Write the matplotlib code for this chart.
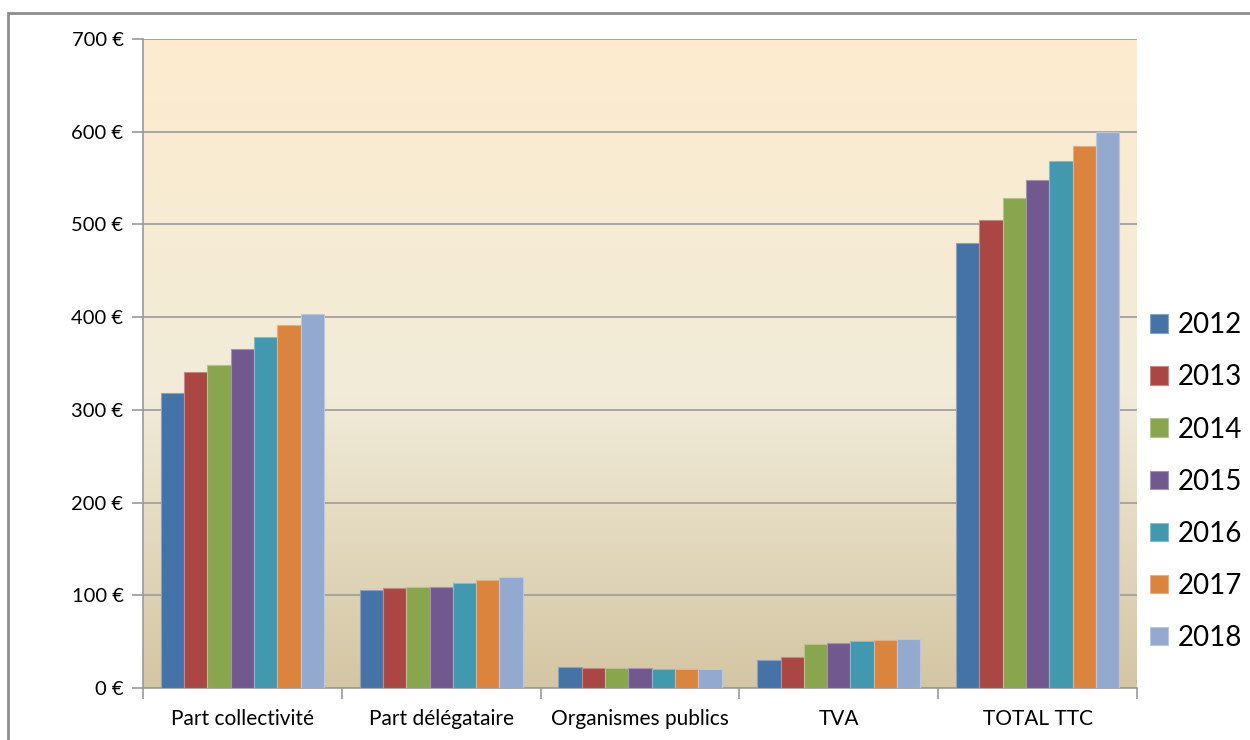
import numpy as np
import matplotlib.pyplot as plt
from matplotlib.colors import LinearSegmentedColormap, to_rgb
from matplotlib.patches import Rectangle

categories = ["Part collectivité", "Part délégataire", "Organismes publics", "TVA", "TOTAL TTC"]
years = ["2012", "2013", "2014", "2015", "2016", "2017", "2018"]

# valeurs en euros, une liste par annee (ordre des categories)
v2012 = [318, 106, 23, 30, 480]
v2013 = [341, 108, 22, 33, 505]
v2014 = [348, 109, 22, 47, 529]
v2015 = [366, 109, 22, 49, 548]
v2016 = [379, 113, 21, 51, 568]
v2017 = [392, 117, 21, 52, 585]
v2018 = [403, 120, 21, 53, 600]
series = [v2012, v2013, v2014, v2015, v2016, v2017, v2018]

colors = ["#4572A7", "#AA4643", "#89A54E", "#71588F", "#4198AF", "#DB843D", "#93A9CF"]
yticks = [0, 100, 200, 300, 400, 500, 600, 700]

plt.rcParams['font.family'] = ['Lato', 'DejaVu Sans']

fig = plt.figure(figsize=(12.5, 7.4), dpi=100)
fig.patches.append(Rectangle((8 / 1250, -0.01), 1.1, 1 - 13 / 740 + 0.01,
                             transform=fig.transFigure, fill=False,
                             edgecolor="#8c8c8c", linewidth=2))
ax = fig.add_axes([143 / 1250, 1 - 688 / 740, (1137 - 143) / 1250, (688 - 39) / 740])

# fond degrade
cmap = LinearSegmentedColormap.from_list("bg", [(0, "#D4C6A3"), (0.45, "#F1EBD8"), (1, "#FDECCF")])
grad = np.linspace(0, 1, 256).reshape(-1, 1)
ax.imshow(grad, aspect="auto", cmap=cmap, origin="lower", extent=[0, 1, 0, 1],
          transform=ax.transAxes, zorder=0)

n = len(series)
group_w = 0.82
bw = group_w / n
x = np.arange(len(categories))
for i, (vals, c) in enumerate(zip(series, colors)):
    edge = tuple(0.65 * np.array(to_rgb(c)) + 0.35)
    ax.bar(x - group_w / 2 + bw * (i + 0.5), vals, width=bw, color=c,
           edgecolor=edge, linewidth=0.8, label=years[i], zorder=3)

ax.set_xlim(-0.5, len(categories) - 0.5)
ax.set_ylim(0, 700)
ax.set_yticks(yticks)
ax.set_yticklabels([f"{v} €" for v in yticks], fontsize=14.5)
ax.yaxis.grid(True, color="#9a9a9a", linewidth=1.2, zorder=1)
ax.set_axisbelow(True)

ax.set_xticks(x)
ax.set_xticklabels(categories, fontsize=15)
ax.set_xticks(np.arange(-0.5, len(categories)), minor=True)
ax.tick_params(axis="x", which="major", length=0, pad=15)
ax.tick_params(axis="x", which="minor", length=8, color="#9a9a9a", width=1.2)
ax.tick_params(axis="y", length=8, color="#9a9a9a", width=1.2, pad=6)

for s in ["top", "right"]:
    ax.spines[s].set_visible(False)
for s in ["left", "bottom"]:
    ax.spines[s].set_color("#9a9a9a")
    ax.spines[s].set_linewidth(1.2)

leg = ax.legend(loc="center left", bbox_to_anchor=(1.013, 0.318), frameon=False,
                fontsize=20, handlelength=0.65, handleheight=0.65,
                labelspacing=0.94, handletextpad=0.36, borderaxespad=0, borderpad=0)

fig.savefig("out.png", dpi=100)
